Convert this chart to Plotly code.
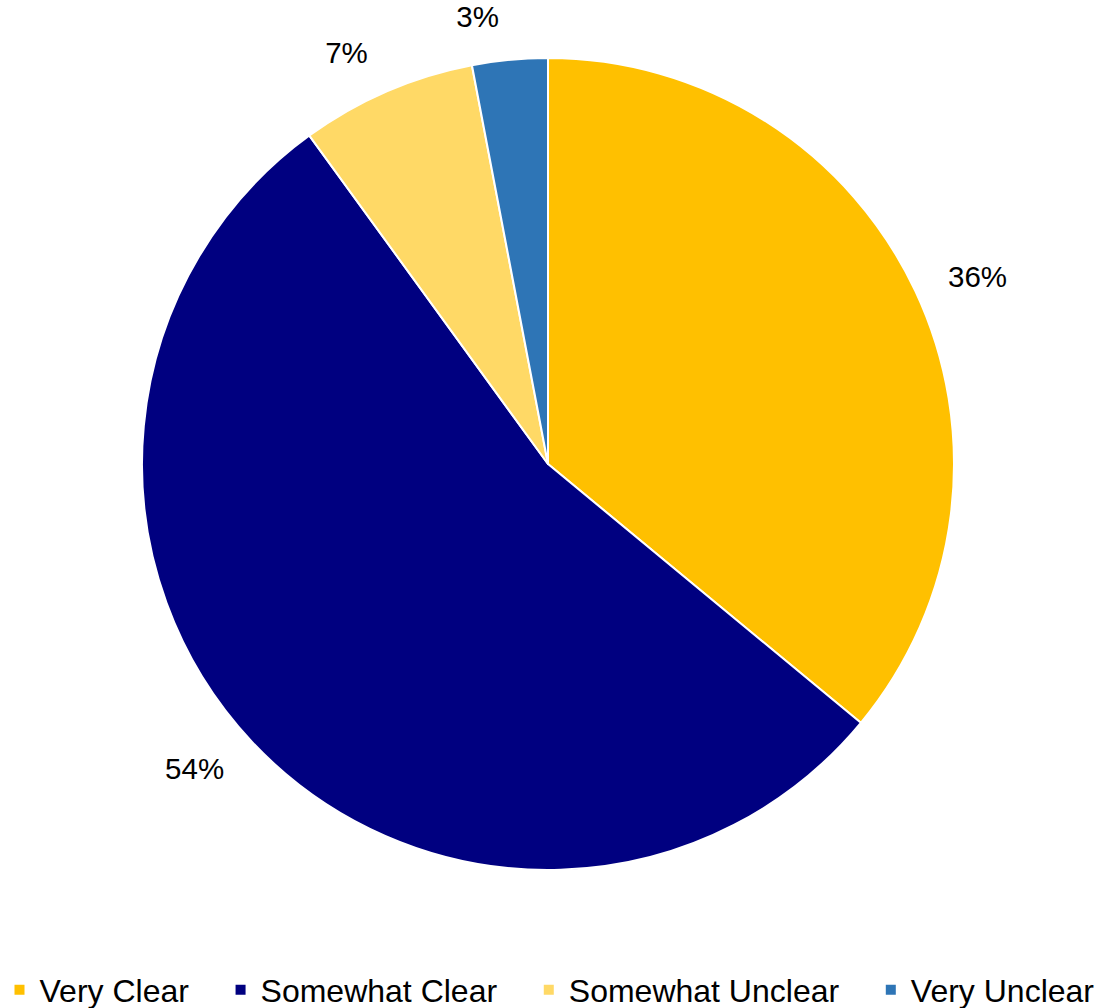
import plotly.graph_objects as go

# Survey responses: how clear was the information?
categories = ["Very Clear", "Somewhat Clear", "Somewhat Unclear", "Very Unclear"]
shares = [36, 54, 7, 3]
slice_colors = ["#FFC000", "#000080", "#FFD966", "#2E75B6"]

FONT = "Liberation Sans, Arial, sans-serif"

W, H = 1099, 1008
MARGIN_B = 100
PLOT_H = H - MARGIN_B

# pie geometry in pixels
CX, CY = 548, 464
R_PIE = 406
R_LABELS = 433  # percentage labels sit just outside this ring


def domain_for(radius):
    return dict(
        x=[(CX - radius) / W, (CX + radius) / W],
        y=[1 - (CY + radius) / PLOT_H, 1 - (CY - radius) / PLOT_H],
    )


# a little extra room after each legend entry except the last
legend_labels = [c + ("\u00a0\u00a0\u00a0" if i < len(categories) - 1 else "")
                 for i, c in enumerate(categories)]

fig = go.Figure()

# the coloured slices
fig.add_trace(
    go.Pie(
        labels=legend_labels,
        values=shares,
        sort=False,
        direction="clockwise",
        rotation=0,
        domain=domain_for(R_PIE),
        marker=dict(colors=slice_colors, line=dict(color="white", width=2)),
        textinfo="none",
        hoverinfo="label+percent",
    )
)

# transparent ring carrying the outside percentage labels
fig.add_trace(
    go.Pie(
        labels=legend_labels,
        values=shares,
        sort=False,
        direction="clockwise",
        rotation=0,
        domain=domain_for(R_LABELS),
        marker=dict(colors=["rgba(0,0,0,0)"] * len(shares), line=dict(width=0)),
        texttemplate="%{percent:.0%}",
        textposition="outside",
        outsidetextfont=dict(family=FONT, size=29.5, color="black"),
        hoverinfo="skip",
        showlegend=False,
    )
)

fig.update_layout(
    width=W,
    height=H,
    margin=dict(l=0, r=0, t=0, b=MARGIN_B, autoexpand=False),
    paper_bgcolor="white",
    plot_bgcolor="white",
    font=dict(family=FONT, color="black"),
    showlegend=True,
    legend=dict(
        orientation="h",
        x=0.5,
        xanchor="center",
        y=-(990 - PLOT_H) / PLOT_H,
        yanchor="middle",
        font=dict(family=FONT, size=32, color="black"),
        traceorder="normal",
    ),
)

fig.write_html("out.html")
